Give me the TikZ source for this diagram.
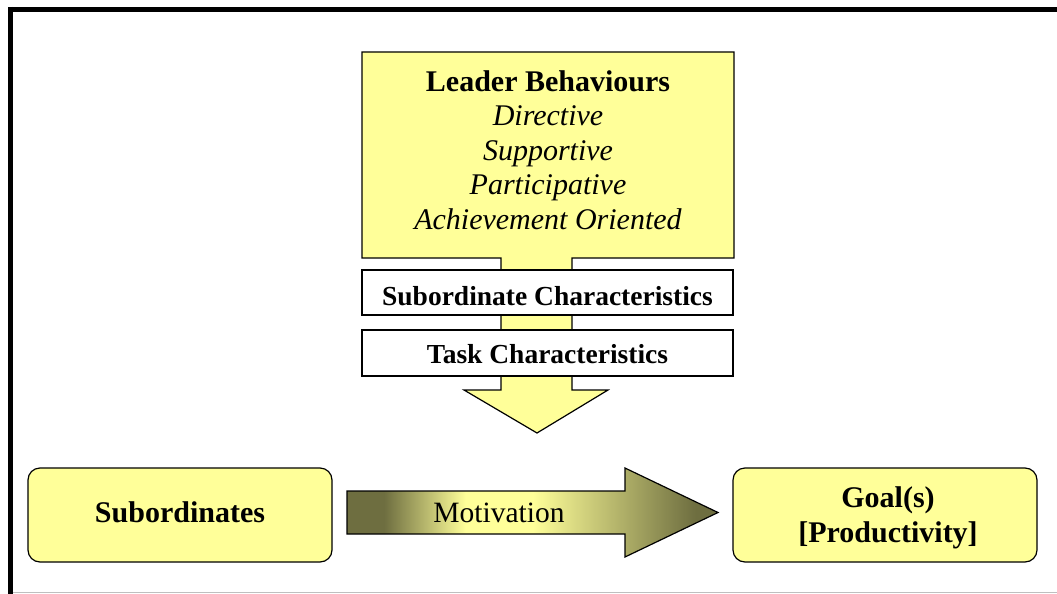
\documentclass[tikz,border=0pt]{standalone}
\usepackage{fontspec}
\setmainfont{Liberation Serif}
\usetikzlibrary{positioning}
\definecolor{paleyellow}{RGB}{255,255,153}
\definecolor{darkolive}{RGB}{110,110,64}
\pgfdeclarehorizontalshading{motivshade}{100bp}{color(0bp)=(darkolive); color(30bp)=(darkolive); color(41bp)=(paleyellow); color(50bp)=(paleyellow); color(72bp)=(darkolive); color(100bp)=(darkolive)}

\begin{document}
\begin{tikzpicture}[x=1pt,y=-1pt]
			\tikzstyle{plainbox} = [draw=black,line width=1.2pt,fill=white,minimum width=371pt,text depth=0pt,font=\fontsize{27.5}{32}\selectfont\bfseries]
			\tikzstyle{endbox} = [draw=black,line width=1.2pt,fill=paleyellow,rounded corners=12pt,minimum width=304pt,minimum height=94pt]
			\tikzstyle{endtext} = [align=center,font=\fontsize{30}{35}\selectfont\bfseries]
			\tikzstyle{arrowshape} = [draw=black,line width=1.2pt]
			\useasboundingbox (0,0) rectangle (1057,594);
			\draw[line width=5pt] (8,9.5) -- (1057,9.5);
			\draw[line width=5pt] (10.5,7) -- (10.5,594);
			\draw[gray!50,line width=1pt] (13,592.5) -- (1057,592.5);
			\draw[arrowshape,fill=paleyellow] (362,52) -- (734,52) -- (734,258) -- (572,258) -- (572,390) -- (608,390) -- (537,433) -- (464,390) -- (501,390) -- (501,258) -- (362,258) -- cycle;
			\node[align=center,font=\fontsize{30}{34.5}\selectfont] (leader) at (548,150) {\textbf{Leader Behaviours}\\\textit{Directive}\\\textit{Supportive}\\\textit{Participative}\\\textit{Achievement Oriented}};
			\node[plainbox,minimum height=45pt,text height=25pt] (subchar) at (547.5,292.5) {Subordinate Characteristics};
			\node[plainbox,minimum height=46pt,text height=20pt] (taskchar) at (547.5,353) {Task Characteristics};
			\node[endbox] (subs) at (180,515) {};
			\node[endbox] (goal) at (885,515) {};
			\node[endtext] (substext) at ([yshift=3pt]subs.center) {Subordinates};
			\node[endtext] (goaltext) at ([xshift=3pt,yshift=-3pt]goal.center) {Goal(s)\\{[Productivity]}};
			\draw[arrowshape,shade,shading=motivshade] (347,491) -- (625,491) -- (625,468) -- (718,512.5) -- (625,557) -- (625,534) -- (347,534) -- cycle;
			\node[font=\fontsize{29.5}{34}\selectfont] (motiv) at (499,512.5) {Motivation};
\end{tikzpicture}
\end{document}
